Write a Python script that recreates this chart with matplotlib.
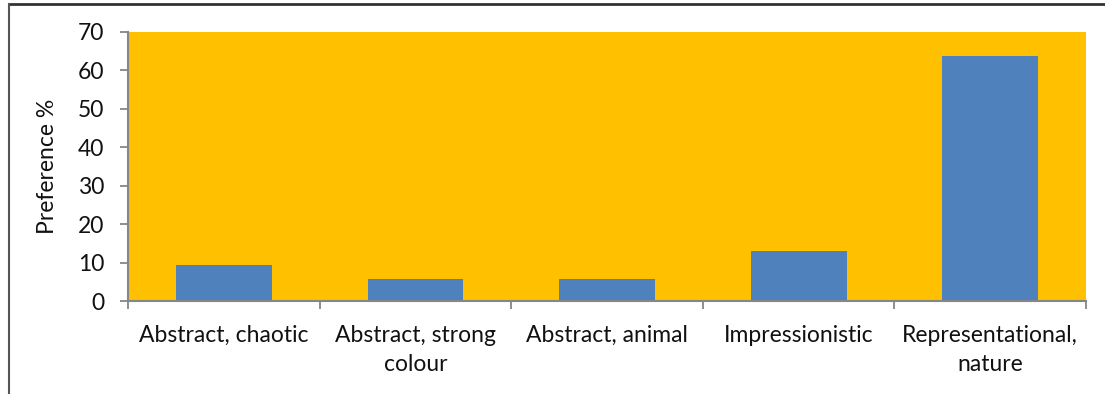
import matplotlib
matplotlib.use("Agg")
import matplotlib.pyplot as plt
from matplotlib.lines import Line2D
import numpy as np

categories = ["Abstract, chaotic", "Abstract, strong\ncolour", "Abstract, animal",
              "Impressionistic", "Representational,\nnature"]
preference = [9.4, 5.7, 5.7, 13.0, 63.8]
y_ticks = [0, 10, 20, 30, 40, 50, 60, 70]

plt.rcParams['font.family'] = ['Lato', 'DejaVu Sans']

fig = plt.figure(figsize=(11.05, 3.94), dpi=100)
ax = fig.add_axes([128/1105, 1-301/394, (1086-128)/1105, (301-32)/394])
ax.set_facecolor('#FFC000')

x = np.arange(len(categories))
ax.bar(x, preference, width=0.5, color='#4F81BD', zorder=2)

ax.set_xlim(-0.5, len(categories) - 0.5)
ax.set_ylim(0, 70)
ax.set_yticks(y_ticks)
ax.set_xticks(x)
ax.set_xticklabels(categories, fontsize=16.5, color='#111111', linespacing=1.5)
ax.set_xticks(np.arange(-0.5, len(categories)), minor=True)
ax.tick_params(axis='x', which='major', length=0, pad=17)
ax.tick_params(axis='x', which='minor', length=6, color='#868686', width=1.3)
ax.tick_params(axis='y', length=6, color='#868686', width=1.3, labelsize=16.5, pad=11,
               labelcolor='#111111')

fig.text(47/1105, 1-166/394, "Preference %", rotation=90, fontsize=16.5,
         color='#111111', ha='center', va='center')

for side in ['top', 'right']:
    ax.spines[side].set_visible(False)
for side in ['left', 'bottom']:
    ax.spines[side].set_color('#868686')
    ax.spines[side].set_linewidth(1.5)

# frame edges along the top and left of the figure
fig.add_artist(Line2D([8.5/1105, 1], [1-3.5/394, 1-3.5/394], transform=fig.transFigure,
                      color='#333333', linewidth=2))
fig.add_artist(Line2D([8.5/1105, 8.5/1105], [0, 1-3.5/394], transform=fig.transFigure,
                      color='#555555', linewidth=1.5))

fig.savefig("out.png", dpi=100)
